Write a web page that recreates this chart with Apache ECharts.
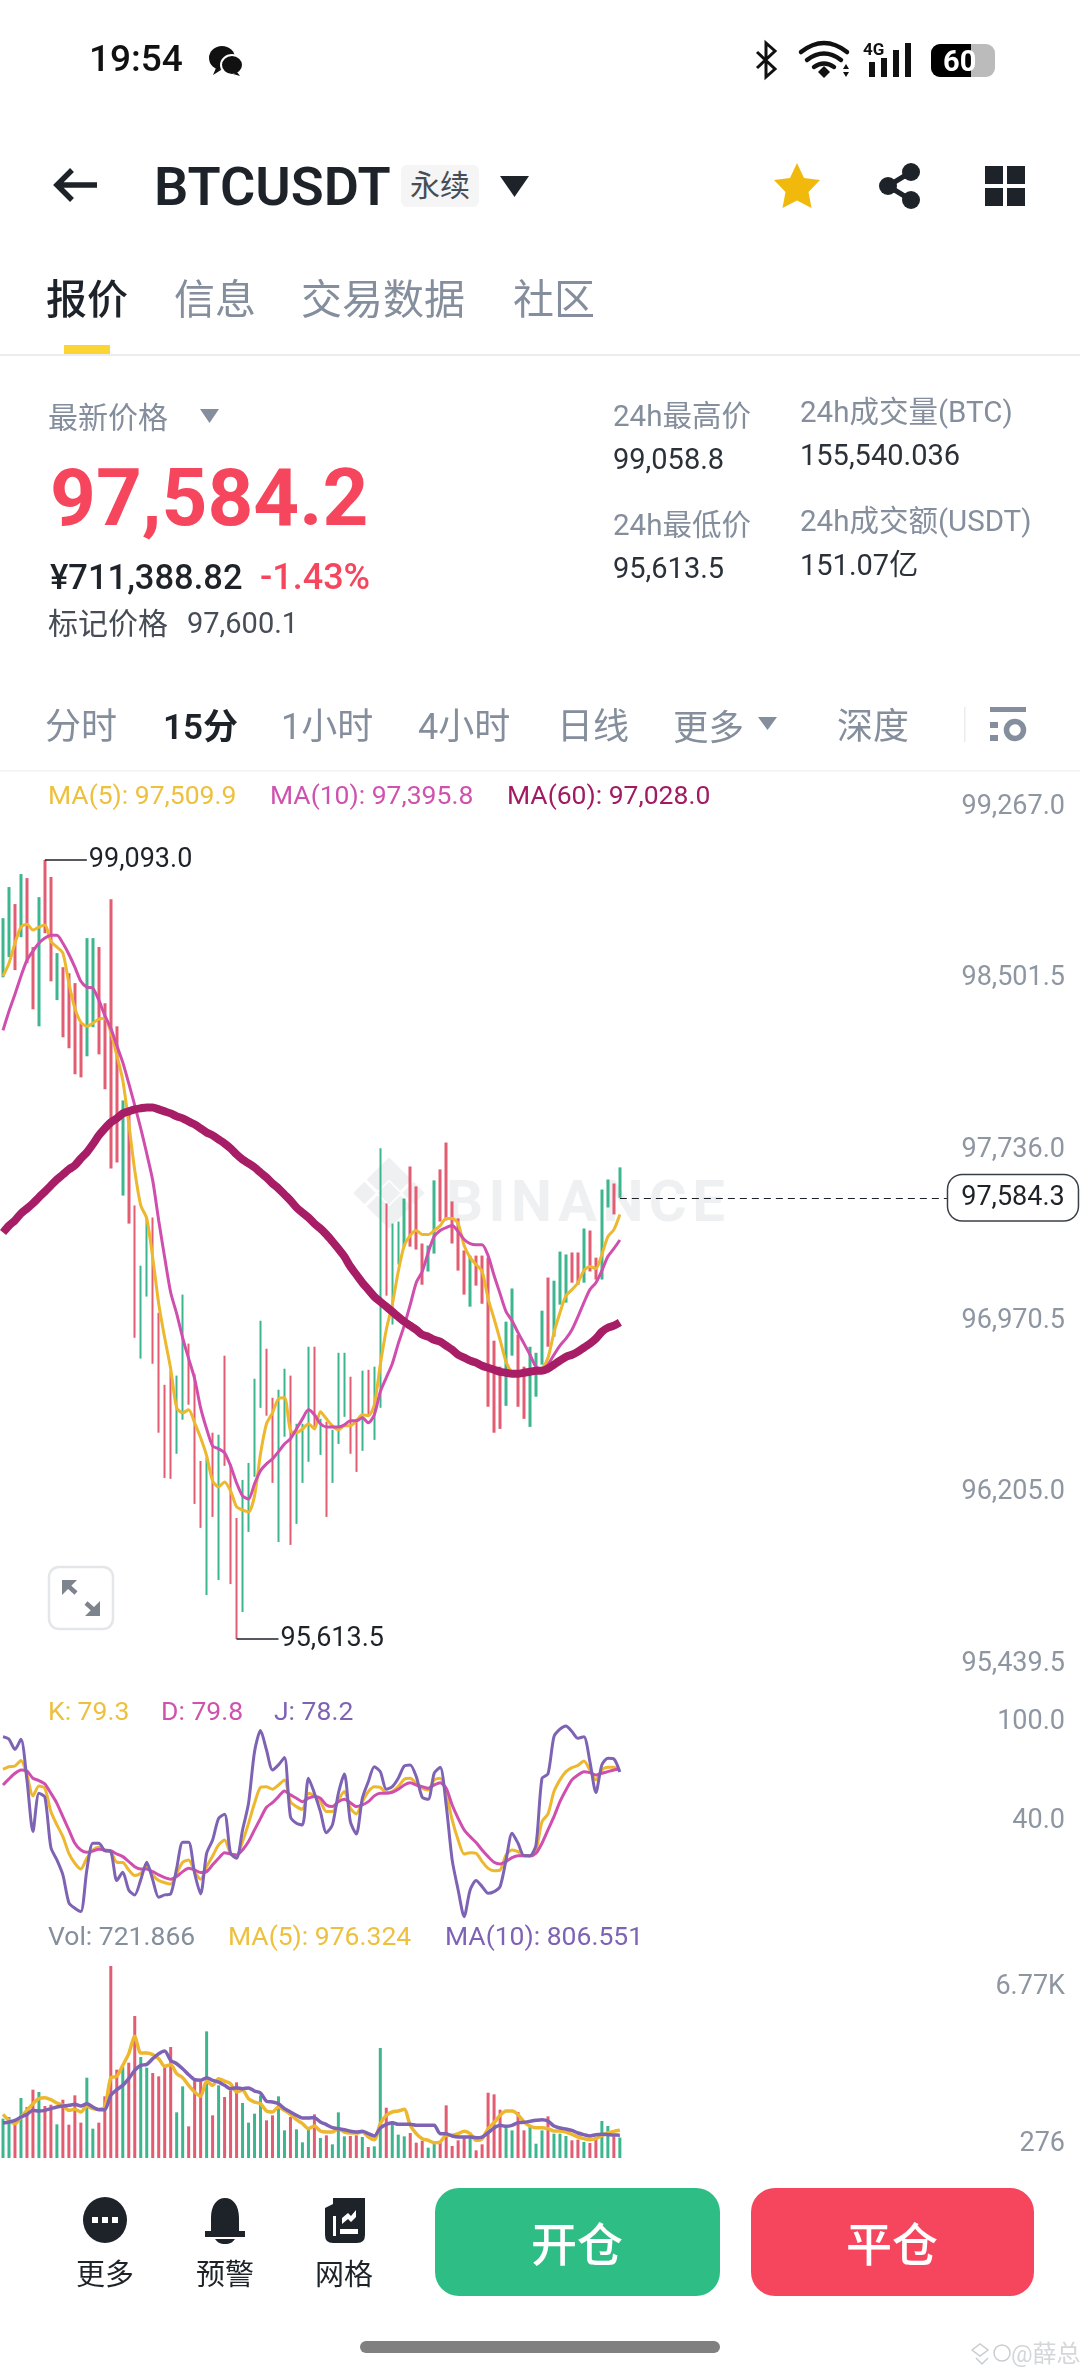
<!DOCTYPE html>
<html lang="zh-CN"><head><meta charset="utf-8">
<style>
html,body{margin:0;padding:0;background:#fff;width:1080px;height:2374px;overflow:hidden;font-family:Roboto,"Noto Sans CJK SC",sans-serif}
#wm,#chart,#ui,#icons{position:absolute;left:0;top:0;width:1080px;height:2374px}
#ui div{position:absolute;white-space:nowrap;transform:translateY(-50%);line-height:1.2}
</style>
<script src="https://cdn.jsdelivr.net/npm/echarts@6/dist/echarts.min.js"></script>
</head><body>
<svg id="wm" viewBox="0 0 1080 2374">
  <g fill="#EFF0F1">
    <g transform="translate(389,1193) scale(1.12) translate(-406,-1196)">
    <path d="M408 1162l20 20-10 10-10-10-10 10-10-10zM376 1194l10-10 10 10-10 10zM408 1184l10 10-10 10-10-10zM440 1194l-10 10-10-10 10-10zM408 1226l-20-20 10-10 10 10 10-10 10 10z" transform="translate(-2,2)"/>
    </g>
    <text x="446" y="1221" font-family="Roboto" font-weight="700" font-size="58" letter-spacing="5.5">BINANCE</text>
  </g>
</svg>
<div id="chart"></div>
<svg id="icons" viewBox="0 0 1080 2374">
  <!-- status bar -->
  <g fill="#111"><ellipse cx="222" cy="58" rx="13" ry="12"/><ellipse cx="232" cy="65" rx="11" ry="10" stroke="#fff" stroke-width="2"/><path d="M216 68l-3 7 8-5zM237 72l3 4-7-2z"/></g>
  <path d="M757 52l18 17-9 8V43l9 8-18 17" fill="none" stroke="#111" stroke-width="3"/>
  <g fill="none" stroke="#111" stroke-width="4.5" stroke-linecap="round"><path d="M801 52q23-18 46 0"/><path d="M807 60q17-13 34 0"/><path d="M814 67q10-7 20 0"/></g>
  <path d="M824 66l6 6-6 6-6-6z" fill="#111"/><path d="M846 64l3 5h-6zM846 77l3-5h-6z" fill="#111"/>
  <text x="863" y="55" font-family="Roboto" font-weight="700" font-size="17" fill="#111">4G</text>
  <g fill="#111"><rect x="869" y="62" width="6" height="15"/><rect x="881" y="58" width="6" height="19"/><rect x="893" y="50" width="6" height="27"/><rect x="905" y="43" width="6" height="34"/></g>
  <rect x="931" y="44" width="64" height="33" rx="9" fill="#bbb"/><path d="M940 44h31v33h-31a9 9 0 0 1-9-9V53a9 9 0 0 1 9-9z" fill="#000"/>
  <text x="943" y="71" font-family="Roboto" font-weight="700" font-size="29" fill="#fff">60</text>
  <!-- header -->
  <path d="M97 185H58M72 170l-15 15 15 15" fill="none" stroke="#1E2329" stroke-width="5.5"/>
  <path d="M500 176h29l-14.500 21z" fill="#1E2329"/>
  <path d="M797 163l7 15 16 2-11.500 12 3 16-14.500-7.500-14.500 7.500 3-16-11.500-12 16-2z" fill="#F0B90B"/>
  <g fill="#1E2329"><circle cx="911" cy="172" r="9"/><circle cx="888" cy="186" r="9"/><circle cx="911" cy="200" r="9"/><path d="M888 186L911 172M888 186L911 200" stroke="#1E2329" stroke-width="5"/></g>
  <g fill="#1E2329"><rect x="985" y="166" width="18" height="18"/><rect x="1007" y="166" width="18" height="18"/><rect x="985" y="188" width="18" height="18"/><rect x="1007" y="188" width="18" height="18"/></g>
  <rect x="64" y="345" width="46" height="9" fill="#FCD535"/>
  <rect x="0" y="354" width="1080" height="2" fill="#EAECEF"/>
  <path d="M200 409h19l-9.500 14z" fill="#848E9C"/>
  <path d="M758 717h19l-9.500 13z" fill="#848E9C"/>
  <rect x="964" y="707" width="1.500" height="35" fill="#EAECEF"/>
  <g fill="#848E9C"><rect x="990" y="707" width="36" height="5"/><rect x="990" y="722" width="8" height="6"/><rect x="990" y="735" width="8" height="6"/></g>
  <circle cx="1015" cy="730" r="8.500" fill="none" stroke="#848E9C" stroke-width="5.500"/>
  <rect x="0" y="770" width="1080" height="1.500" fill="#F1F2F3"/>
  <!-- expand -->
  <rect x="49" y="1567" width="64" height="62" rx="10" fill="#fff" stroke="#E4E6E9" stroke-width="2.500"/>
  <g fill="none" stroke="#7D848E" stroke-width="4.500"><path d="M66 1584l10 9M86 1603l10 9"/></g>
  <g fill="#7D848E"><path d="M62 1580h15l-15 15zM100 1616h-15l15-15z"/></g>
  <!-- bottom -->
  <ellipse cx="105" cy="2220" rx="22" ry="23" fill="#1E2329"/>
  <g fill="#fff"><rect x="92" y="2217" width="6" height="6"/><rect x="102" y="2217" width="6" height="6"/><rect x="112" y="2217" width="6" height="6"/></g>
  <path d="M211 2231v-13c0-13 6-20 14-20s14 7 14 20v13h6v6h-40v-6z" fill="#1E2329"/><path d="M215 2239h20c-2 3-5 5-10 5s-8-2-10-5z" fill="#1E2329"/>
  <path d="M336 2198h29v37q0 8-8 8h-24q-8 0-8-8v-27l8-4v-6z" fill="#1E2329"/>
  <path d="M333 2216h3v20h-3zM340 2229h18v5h-18zM342 2218l6-5 3 3 5-6v7l-5 5-3-3-6 5z" fill="#fff"/>
  <rect x="435" y="2188" width="285" height="108" rx="24" fill="#2EBD85"/>
  <rect x="751" y="2188" width="283" height="108" rx="24" fill="#F6465D"/>
  <rect x="360" y="2341" width="360" height="12" rx="6" fill="#808080"/>
  <g fill="none" stroke="#C9CCD0" stroke-width="1.500"><path d="M972 2350l8-6 8 6-8 6zM976 2358l6 6 6-6"/><circle cx="1002" cy="2353" r="8"/></g>
</svg>
<div id="ui"></div>
<script>
// ---- price chart data (index = candle, 15 min each) ----
const highPrices = [
98833,98972,98896,99030,99012,98704,98927,99093,99017,98677,
98614,98587,98543,98364,98744,98744,98704,98453,98918,98350,
98019,97988,97550,97281,97496,97496,97071,96749,96812,96790,
97152,96933,96798,96409,96423,96535,96526,96879,96396,96154,
96324,96400,96776,97035,96910,96691,96727,96821,96790,96575,
96575,96919,96919,96597,96584,96548,96892,96892,96785,96597,
96812,96816,96830,97805,97559,97469,97478,97581,97724,97635,
97380,97371,97662,97711,97831,97568,97492,97349,97326,97326,
97326,97317,96946,96830,97031,97179,96973,96830,96919,96892,
97080,97228,97214,97344,97331,97340,97340,97447,97438,97317,
97621,97666,97648,97720];
const lowPrices = [
98569,98659,98601,98748,98632,98426,98350,98766,98551,98467,
98301,98252,98136,98122,98216,98346,98225,98069,97715,97742,
97594,97469,96959,96866,97143,96843,96535,96333,96329,96441,
96593,96660,96217,96110,95810,96159,95877,96387,95859,95613.5,
95734,96092,96338,96646,96611,96311,96047,96517,96034,96128,
96311,96405,96548,96436,96159,96311,96485,96606,96441,96360,
96454,96615,96503,96646,97147,97018,97286,97366,97366,97353,
97196,97255,97335,97478,97483,97380,97259,97152,97098,97192,
97111,96651,96535,96552,96655,96879,96651,96597,96561,96696,
96839,96919,96964,97107,97116,97205,97196,97205,97255,97219,
97219,97541,97510,97584.3];
const candleDirs = 'ggrgrrgrrg'+'rrrrggrrrr'+'grrggrrrrg'+'grrrgrgrrr'+'ggggrrggrg'+'ggrgrgggrr'+'grggrgggrr'+'rggrrrrrgr'+'rrrrggrrgg'+'grgggrrgrr'+'ggrg';
const ma5 = [
98574,98632,98721,98793,98806,98780,98793,98802,98730,98704,
98677,98543,98431,98368,98350,98364,98382,98386,98323,98221,
98109,97916,97706,97550,97492,97317,97111,96959,96821,96646,
96624,96637,96579,96512,96432,96320,96293,96315,96275,96204,
96190,96181,96253,96441,96575,96624,96687,96691,96544,96535,
96552,96575,96552,96629,96597,96566,96548,96566,96566,96588,
96615,96611,96660,96839,96995,97107,97255,97371,97416,97438,
97420,97420,97438,97460,97492,97492,97469,97371,97317,97286,
97255,97134,97044,96950,96852,96807,96803,96798,96803,96812,
96821,96870,96982,97071,97147,97174,97205,97259,97277,97268,
97331,97411,97442,97509.9];
const ma10 = [
98332,98417,98493,98574,98645,98686,98721,98744,98757,98757,
98721,98672,98614,98551,98525,98520,98467,98399,98341,98265,
98189,98095,97997,97894,97782,97662,97483,97317,97161,97067,
96959,96866,96776,96646,96552,96476,96463,96445,96387,96311,
96253,96239,96307,96365,96396,96418,96450,96485,96508,96552,
96597,96637,96615,96575,96561,96561,96561,96570,96588,96588,
96602,96579,96615,96718,96781,96843,96933,97013,97107,97205,
97255,97340,97411,97438,97451,97460,97433,97398,97380,97375,
97375,97326,97237,97156,97076,97035,96982,96933,96883,96830,
96816,96839,96883,96924,96955,96995,97053,97116,97174,97205,
97259,97322,97357,97395.8];
const ma60 = [
97429,97460,97483,97514,97536,97559,97586,97612,97639,97666,
97688,97711,97729,97760,97787,97823,97863,97894,97921,97939,
97961,97970,97979,97984,97988,97988,97979,97970,97961,97948,
97939,97925,97912,97894,97876,97863,97845,97827,97805,97778,
97755,97738,97720,97697,97675,97648,97626,97599,97572,97541,
97518,97496,97469,97447,97420,97389,97357,97322,97277,97241,
97205,97174,97143,97120,97098,97076,97053,97031,97013,96995,
96973,96964,96950,96942,96924,96906,96883,96870,96857,96848,
96834,96825,96816,96807,96803,96798,96798,96803,96807,96812,
96812,96821,96839,96857,96874,96883,96897,96915,96933,96955,
96986,97004,97013,97028];
// ---- KDJ ----
const kLine = [
79.8,81.4,81.8,85.1,76.4,63.7,69.7,68.3,54.2,46.1,
39.0,28.9,22.9,19.4,25.9,30.9,32.6,30.5,29.9,23.5,
23.3,18.8,15.4,16.8,20.8,15.8,12.4,11.1,10.3,16.8,
23.5,24.9,17.8,13.2,20.8,27.3,34.0,37.0,28.9,27.5,
36.0,47.1,59.2,68.9,69.3,67.7,70.3,73.4,60.2,57.2,
55.6,65.3,63.7,60.2,54.2,54.2,61.2,66.3,56.2,52.8,
60.2,66.3,69.3,68.9,65.7,66.3,69.3,73.8,74.4,71.3,
68.3,67.3,73.4,74.4,65.3,49.1,37.0,28.5,29.3,28.9,
23.9,19.8,18.4,18.8,27.9,30.9,29.9,27.5,27.5,30.9,
48.1,52.8,66.3,73.4,78.4,80.8,82.2,84.9,79.4,73.4,
79.4,81.0,81.0,79.3];
const dLine = [
70.3,74.0,77.4,79.4,78.8,74.4,73.0,70.9,65.3,59.2,
51.1,43.1,35.0,30.9,29.5,30.3,31.3,30.9,30.5,28.5,
26.9,23.9,20.8,19.4,19.4,17.8,15.8,14.2,13.2,14.8,
17.8,19.8,18.8,17.2,17.8,21.9,25.9,29.3,28.5,27.9,
30.9,36.0,43.1,50.1,56.8,59.6,63.3,66.7,64.3,62.3,
60.2,62.3,63.3,62.3,58.2,57.2,60.2,61.6,59.6,57.2,
58.2,60.2,63.7,65.3,65.3,65.9,67.7,70.3,71.7,70.3,
69.3,68.3,70.3,71.7,68.3,58.2,50.1,43.1,39.0,35.4,
30.9,26.9,23.5,22.5,23.9,26.3,27.5,27.5,27.3,28.9,
35.0,43.1,51.1,60.2,67.3,73.4,76.4,78.4,77.8,76.4,
77.4,78.4,79.4,79.8];
const jLine = [
99.6,98.0,91.9,98.0,73.4,42.1,65.3,62.9,32.4,24.9,
15.8,-1.0,-4.4,-6.4,18.8,35.0,35.0,30.5,29.9,12.4,
17.4,6.7,3.7,12.8,23.5,12.8,2.3,3.7,4.3,19.8,
35.6,35.6,16.8,4.3,28.9,37.0,50.1,52.6,28.9,25.9,
43.1,59.2,90.5,103.3,91.5,79.4,82.5,86.9,51.1,47.1,
46.1,74.4,65.3,54.2,41.4,46.1,65.3,77.0,48.1,40.6,
62.2,72.3,81.4,78.4,67.7,69.3,74.4,81.8,82.5,75.4,
62.9,61.6,77.4,81.0,58.2,24.9,6.7,-9.5,6.7,12.4,
8.7,4.7,5.7,8.7,24.9,41.0,35.0,27.5,27.5,34.0,
74.4,77.0,99.6,104.1,106.1,102.7,98.6,99.6,84.5,65.7,
82.5,86.5,86.1,78.2];
// ---- Volume ----
const volumes = [
1387,1445,1210,2115,1798,2409,2327,1833,1880,1187,
2056,1175,2209,1246,2832,1034,1246,2174,6770,3114,
3208,3361,5006,3560,3184,2996,2879,3208,3913,1610,
2526,1116,2738,2679,4465,1504,2562,2150,2385,2667,
1939,1246,1563,2209,1328,1504,2174,975,1445,1011,
552,1011,1539,705,799,482,1610,764,776,799,
740,388,411,3878,1774,1304,823,764,881,541,
611,364,529,529,1857,423,623,740,717,270,
482,2303,2244,1704,1069,975,1622,975,1093,505,
975,1469,858,858,776,623,646,564,529,740,
1304,1128,764,721.866];
const volMa5 = [
1539,1328,1210,1445,1680,1915,2092,2127,2056,1939,
1857,1680,1716,1622,1833,1739,1716,1798,2832,2879,
3267,3678,4289,3701,3701,3643,3502,3231,3290,2973,
2832,2562,2327,2174,2714,2562,2797,2714,2620,2327,
2385,2092,1974,1915,1657,1622,1798,1680,1539,1351,
1210,1034,1128,952,917,917,1034,917,881,881,
917,740,646,1210,1504,1622,1657,1716,1152,858,
682,623,541,564,799,799,858,940,858,623,
682,1034,1246,1504,1657,1657,1528,1269,1128,1069,
1069,1034,952,952,917,834,740,682,646,682,
799,881,940,976.324];
const volMa10 = [
1234,1269,1328,1445,1539,1680,1657,1680,1739,1798,
1833,1857,1892,1833,1915,1798,1704,1704,2209,2409,
2562,2797,3090,3267,3302,3502,3678,3772,3443,3325,
3149,2938,2761,2738,2832,2738,2679,2562,2444,2479,
2444,2468,2362,2291,1998,1974,1915,1739,1622,1504,
1410,1410,1422,1269,1175,1069,1034,999,940,917,
940,858,776,1058,1187,1246,1187,1187,1187,1152,
1152,1152,1152,858,858,776,740,740,740,717,
740,893,1058,1152,1116,1152,1246,1257,1293,1328,
1351,1304,1128,1058,1022,976,881,823,776,823,
834,823,807,806.551];
// ---- axis tick labels ----
const priceTicks = [99267.0,98501.5,97736.0,96970.5,96205.0,95439.5];
const kdjTicks = [100,40];
const volTopTick = 6770, volBottomTick = 276;
const lastPrice = 97584.3;
const highMark = 99093.0, highIdx = 7;
const lowMark = 95613.5, lowIdx = 39;
const slots = 180;

const GREEN='#3DB68F', RED='#E25C72';
const YEL='#EDB72E', MAG='#D04FAE', DMAG='#A71E66', PUR='#7E62B4', TICK='#8E96A2', INK='#1E2329';
const FF='Roboto,"Noto Sans CJK SC",sans-serif';
const money=v=>v.toLocaleString('en-US',{minimumFractionDigits:1,maximumFractionDigits:1});

const candleData = highPrices.map((h,i)=>{const l=lowPrices[i];return candleDirs[i]==='g'?[l,h,l,h]:[h,l,l,h];});
const volData = volumes.map((v,i)=>({value:v,itemStyle:{color:candleDirs[i]==='g'?GREEN:RED}}));
const cats = Array.from({length:slots},(_,i)=>String(i));
const line=(name,data,color,width,x,y)=>({name,type:'line',data,xAxisIndex:x,yAxisIndex:y,showSymbol:false,smooth:0.25,silent:true,clip:true,lineStyle:{color,width},itemStyle:{color},z:3});

const legend=(text,x,y,fill)=>({type:'text',left:x,top:y-16,style:{text,fill,font:'400 26.5px '+FF}});
const chart=echarts.init(document.getElementById('chart'),null,{width:1080,height:2374});
chart.setOption({
  animation:false,backgroundColor:'transparent',
  grid:[{left:-2,width:1080,top:821,height:857},{left:-2,width:1080,top:1719.5,height:214.5},{left:-2,width:1080,top:1966,height:192}],
  xAxis:[0,1,2].map(g=>({type:'category',gridIndex:g,data:cats,show:false})),
  yAxis:[
   {type:'value',gridIndex:0,position:'right',min:95439.5,max:99267,splitLine:{show:false},axisLine:{show:false},axisTick:{show:false},
    axisLabel:{inside:true,margin:13,customValues:priceTicks,formatter:v=>money(v),color:TICK,fontSize:27,fontFamily:FF,verticalAlign:'bottom',lineHeight:28}},
   {type:'value',gridIndex:1,position:'right',min:-20,max:110,splitLine:{show:false},axisLine:{show:false},axisTick:{show:false},
    axisLabel:{inside:true,margin:13,customValues:kdjTicks,formatter:v=>v.toFixed(1),color:TICK,fontSize:27,fontFamily:FF,verticalAlign:'bottom',lineHeight:28}},
   {type:'value',gridIndex:2,position:'right',min:0,max:6770,splitLine:{show:false},axisLine:{show:false},axisTick:{show:false},
    axisLabel:{inside:true,margin:13,customValues:[volTopTick],formatter:()=>'6.77K',color:TICK,fontSize:27,fontFamily:FF,verticalAlign:'top',padding:[8,0,0,0]}},
   {type:'value',gridIndex:2,position:'right',min:0,max:6770,splitLine:{show:false},axisLine:{show:false},axisTick:{show:false},
    axisLabel:{inside:true,margin:13,customValues:[volBottomTick],formatter:v=>String(v),color:TICK,fontSize:27,fontFamily:FF,verticalAlign:'bottom',lineHeight:12}}
  ],
  series:[
   {name:'K线',type:'candlestick',xAxisIndex:0,yAxisIndex:0,data:candleData,barWidth:3,silent:true,z:2,
    itemStyle:{color:GREEN,color0:RED,borderColor:GREEN,borderColor0:RED,borderWidth:0},
    markLine:{silent:true,symbol:['none','none'],animation:false,data:[
      [{coord:[highIdx,highMark],lineStyle:{color:INK,width:1.5,type:'solid'},label:{show:true,position:'end',formatter:()=>money(highMark),color:INK,fontSize:27,fontFamily:FF,distance:2,padding:[6,0,0,0]}},{coord:[highIdx+7,highMark]}],
      [{coord:[lowIdx,lowMark],lineStyle:{color:INK,width:1.5,type:'solid'},label:{show:true,position:'end',formatter:()=>money(lowMark),color:INK,fontSize:27,fontFamily:FF,distance:2,padding:[6,0,0,0]}},{coord:[lowIdx+7,lowMark]}],
      [{coord:[highPrices.length-1,lastPrice],lineStyle:{color:INK,width:1.2,type:[7,5]},
        label:{show:true,position:'end',formatter:()=>money(lastPrice),color:INK,fontSize:27,fontFamily:FF,distance:-1,backgroundColor:'#fff',borderColor:'#3a3f47',borderWidth:1.5,borderRadius:14,padding:[12,13,6,13]}},
       {coord:[158,lastPrice]}]
    ]}},
   line('MA5',ma5,YEL,3,0,0),
   line('MA10',ma10,MAG,3,0,0),
   Object.assign(line('MA60',ma60,DMAG,8,0,0),{z:4}),
   line('K',kLine,YEL,3,1,1),
   line('D',dLine,MAG,3,1,1),
   line('J',jLine,PUR,3,1,1),
   {name:'Vol',type:'bar',xAxisIndex:2,yAxisIndex:2,data:volData,barWidth:3,silent:true,z:2},
   line('VolMA5',volMa5,YEL,3.5,2,2),
   line('VolMA10',volMa10,PUR,3.5,2,2)
  ],
  graphic:[
    legend('MA(5): 97,509.9',48,800,'#EDC03E'),
    legend('MA(10): 97,395.8',270,800,'#CF52AE'),
    legend('MA(60): 97,028.0',507,800,'#A11A62'),
    legend('K: 79.3',48,1716,'#EDC03E'),
    legend('D: 79.8',161,1716,'#CF52AE'),
    legend('J: 78.2',274,1716,'#7E62B4'),
    legend('Vol: 721.866',48,1941,'#848E9C'),
    legend('MA(5): 976.324',228,1941,'#EDC03E'),
    legend('MA(10): 806.551',445,1941,'#7E62B4')
  ]
});

// ---- app chrome text ----
const ui=document.getElementById('ui');
function t(s,x,y,size,color,weight,center){
  const d=document.createElement('div');d.textContent=s;
  d.style.cssText=`left:${x}px;top:${y}px;font-size:${size}px;color:${color};font-weight:${weight||400};`+(center?'transform:translate(-50%,-50%);':'');
  ui.appendChild(d);
}
const G='#848E9C',D='#1E2329',R='#F6465D';
t('19:54',89,59,37,'#111',500);
t('BTCUSDT',154,187,54,D,600);
const b=document.createElement('div');b.textContent='永续';
b.style.cssText='left:401px;top:186px;width:78px;height:42px;line-height:42px;text-align:center;background:#F5F5F5;border-radius:6px;font-size:30px;color:#474D57';ui.appendChild(b);
t('报价',46,301,41,D,500);t('信息',174,301,41,G);t('交易数据',301,301,41,G);t('社区',513,301,41,G);
t('最新价格',48,418,30,G);
t('97,584.2',50,498,80,R,700);
t('¥711,388.82',50,578,34.5,D,500);t('-1.43%',260,578,36,R,500);
t('标记价格',48,624,30,'#474D57');t('97,600.1',187,623,29,'#474D57');
t('24h最高价',613,417,29.5,G);t('99,058.8',613,459,29,'#2B3139');
t('24h最低价',613,526,29.5,G);t('95,613.5',613,568,29,'#2B3139');
t('24h成交量(BTC)',800,413,29.5,G);t('155,540.036',800,455,29,'#2B3139');
t('24h成交额(USDT)',800,522,29.5,G);t('151.07亿',800,565,29,'#2B3139');
t('分时',45,728,36,G);t('15分',163,728,35,D,600);t('1小时',281,728,36,G);t('4小时',418,728,36,G);
t('日线',557,728,36,G);t('更多',673,728,35.5,G);t('深度',837,728,36,G);
t('更多',105,2275,29,D,400,1);t('预警',225,2275,29,D,400,1);t('网格',344,2275,29,D,400,1);
t('开仓',577,2246,46,'#fff',500,1);t('平仓',892,2246,46,'#fff',500,1);
t('@薛总',1011,2354,24,'#D4D6D9');
</script>
</body></html>
